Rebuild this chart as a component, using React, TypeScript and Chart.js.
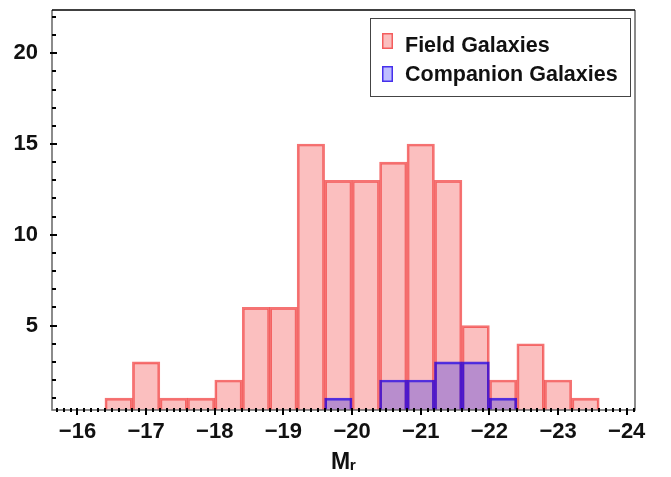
import React, { useEffect, useRef } from 'react';
import { Chart, registerables } from 'chart.js';

Chart.register(...registerables);

// ---- data ----
const binCenters = [-16.6, -17.0, -17.4, -17.8, -18.2, -18.6, -19.0, -19.4, -19.8, -20.2, -20.6, -21.0, -21.4, -21.8, -22.2, -22.6, -23.0, -23.4];
const fieldCounts = [1, 3, 1, 1, 2, 6, 6, 15, 13, 13, 14, 15, 13, 5, 2, 4, 2, 1];
const companionCounts = [null, null, null, null, null, null, null, null, 1, null, 2, 2, 3, 3, 1, null, null, null];
const xTickValues = [-16, -17, -18, -19, -20, -21, -22, -23, -24];
const yTickValues = [5, 10, 15, 20];
const seriesLabels = ['Field Galaxies', 'Companion Galaxies'];
const xTitle = 'M\u1D63';

const FONT = "'Liberation Sans', Arial, sans-serif";
const FIELD_FILL = 'rgba(240,20,20,0.27)';
const FIELD_BORDER = 'rgba(240,40,40,0.65)';
const COMP_FILL = 'rgba(10,10,240,0.28)';
const COMP_BORDER = 'rgba(30,0,230,0.75)';

const decorPlugin = {
  id: 'decor',
  afterDraw(chart: any) {
    const { ctx, chartArea, scales } = chart;
    const { left, right, top, bottom } = chartArea;
    const xs = scales.x;
    const ys = scales.y;
    ctx.save();
    // frame
    ctx.lineWidth = 1.5;
    ctx.strokeStyle = '#666';
    ctx.beginPath();
    ctx.moveTo(left, top);
    ctx.lineTo(left, bottom);
    ctx.lineTo(right, bottom);
    ctx.lineTo(right, top);
    ctx.stroke();
    ctx.strokeStyle = '#000';
    ctx.beginPath();
    ctx.moveTo(left, top);
    ctx.lineTo(right, top);
    ctx.stroke();

    // y ticks
    ctx.strokeStyle = '#000';
    ctx.lineWidth = 2;
    for (let v = 1; v <= 22; v++) {
      const y = Math.round(ys.getPixelForValue(v));
      const major = v % 5 === 0;
      ctx.beginPath();
      ctx.moveTo(left - (major ? 2 : 0), y);
      ctx.lineTo(left + (major ? 5 : 4), y);
      ctx.stroke();
    }
    // x ticks
    for (let k = 156; k <= 241; k++) {
      const v = -k / 10;
      const x = Math.round(xs.getPixelForValue(v));
      if (x < left || x > right) continue;
      const major = k % 10 === 0;
      ctx.beginPath();
      ctx.moveTo(x, bottom - 2);
      ctx.lineTo(x, bottom + (major ? 5 : 2));
      ctx.stroke();
    }

    // legend
    const lx = 370.5, ly = 18.5, lw = 260, lh = 78;
    ctx.fillStyle = '#fff';
    ctx.fillRect(lx, ly, lw, lh);
    ctx.lineWidth = 1;
    ctx.strokeStyle = '#444';
    ctx.strokeRect(lx, ly, lw, lh);
    const items = [
      { fill: FIELD_FILL, stroke: FIELD_BORDER, py: 33, ty: 52 },
      { fill: 'rgba(40,40,255,0.3)', stroke: COMP_BORDER, py: 66, ty: 81 },
    ];
    items.forEach((it, i) => {
      ctx.fillStyle = it.fill;
      ctx.fillRect(382, it.py, 11, 16);
      ctx.lineWidth = 1.5;
      ctx.strokeStyle = it.stroke;
      ctx.strokeRect(382.75, it.py + 0.75, 9.5, 14.5);
      ctx.fillStyle = '#111';
      ctx.font = 'bold 21.5px ' + FONT;
      ctx.textBaseline = 'alphabetic';
      ctx.textAlign = 'left';
      ctx.fillText(chart.data.datasets[i].label, 405, it.ty);
    });
    ctx.restore();
  },
};

export default function App() {
  const ref = useRef<HTMLCanvasElement | null>(null);
  useEffect(() => {
    if (!ref.current) return;
    const fieldData = binCenters.map((x, i) => ({ x, y: fieldCounts[i] }));
    const compData = binCenters
      .map((x, i) => ({ x, y: companionCounts[i] }))
      .filter((d) => d.y !== null);
    const chart = new Chart(ref.current, {
      type: 'bar',
      data: {
        datasets: [
          {
            label: seriesLabels[0],
            data: fieldData as any,
            backgroundColor: FIELD_FILL,
            borderColor: FIELD_BORDER,
            borderWidth: 2,
            barPercentage: 1,
            categoryPercentage: 1,
            grouped: false,
            order: 2,
          },
          {
            label: seriesLabels[1],
            data: compData as any,
            backgroundColor: COMP_FILL,
            borderColor: COMP_BORDER,
            borderWidth: 2,
            barPercentage: 1,
            categoryPercentage: 1,
            grouped: false,
            order: 1,
          },
        ],
      },
      options: {
        responsive: false,
        animation: false,
        layout: { padding: { top: 10, right: 36, left: 0, bottom: 0 } },
        plugins: {
          legend: { display: false },
          tooltip: { enabled: false },
        },
        scales: {
          x: {
            type: 'linear',
            reverse: true,
            offset: false,
            min: -24.121,
            max: -15.629,
            grid: { display: false, drawTicks: false, offset: false },
            border: { display: false },
            afterBuildTicks: (s: any) => {
              s.ticks = xTickValues.map((v) => ({ value: v }));
            },
            afterFit: (s: any) => {
              s.height = 67;
              s.paddingLeft = 0;
              s.paddingRight = 0;
            },
            ticks: {
              padding: 9,
              maxRotation: 0,
              autoSkip: false,
              color: '#111',
              font: { family: FONT, weight: 'bold', size: 22 },
              callback: (v: any) => (Number(v) < 0 ? '\u2212' + Math.abs(Number(v)) : String(v)),
            },
            title: {
              display: true,
              text: xTitle,
              color: '#111',
              padding: { top: 0, bottom: 1 },
              font: { family: FONT, weight: 'bold', size: 23 },
            },
          },
          y: {
            type: 'linear',
            min: 0.35,
            max: 22.38,
            grid: { display: false, drawTicks: false },
            border: { display: false },
            afterBuildTicks: (s: any) => {
              s.ticks = yTickValues.map((v) => ({ value: v }));
            },
            afterFit: (s: any) => {
              s.width = 52;
              s.paddingTop = 0;
              s.paddingBottom = 0;
            },
            ticks: {
              padding: 14,
              color: '#111',
              font: { family: FONT, weight: 'bold', size: 22 },
            },
          },
        },
      } as any,
      plugins: [decorPlugin],
    });
    return () => chart.destroy();
  }, []);
  return (
    <div style={{ position: 'fixed', left: 0, top: 0, width: 671, height: 477, background: '#fff' }}>
      <canvas ref={ref} width={671} height={477} />
    </div>
  );
}
